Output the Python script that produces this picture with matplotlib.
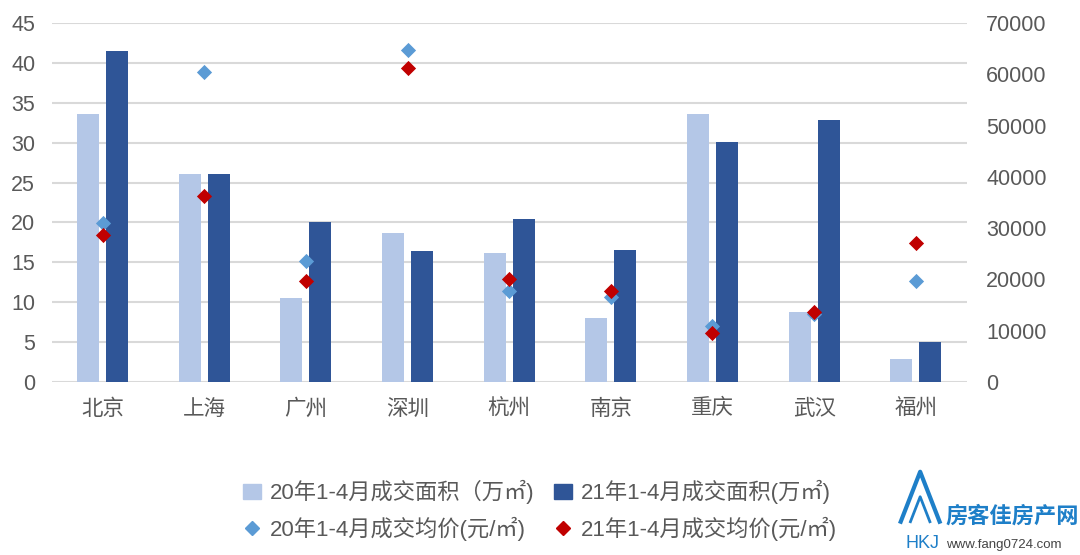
import matplotlib
matplotlib.use("Agg")
import matplotlib.pyplot as plt
import numpy as np
from matplotlib.lines import Line2D
from matplotlib.patches import Patch

plt.rcParams['font.family'] = ['Liberation Sans', 'Noto Sans CJK SC', 'DejaVu Sans']

cities = ['北京', '上海', '广州', '深圳', '杭州', '南京', '重庆', '武汉', '福州']
area_20 = [33.6, 26.1, 10.5, 18.7, 16.2, 8.0, 33.6, 8.8, 2.9]
area_21 = [41.5, 26.1, 20.0, 16.4, 20.4, 16.5, 30.1, 32.8, 5.0]
price_20 = [31000, 60400, 23600, 64700, 17700, 16600, 10900, 13300, 19700]
price_21 = [28700, 36300, 19700, 61200, 20100, 17700, 9600, 13700, 27100]

labels = ['20年1-4月成交面积（万㎡)', '21年1-4月成交面积(万㎡)',
          '20年1-4月成交均价(元/㎡)', '21年1-4月成交均价(元/㎡)']

light = '#B4C7E7'
dark = '#2F5597'
blue = '#5B9BD5'
red = '#C00000'
grey = '#595959'

fig = plt.figure(figsize=(10.8, 5.55), dpi=100)
ax = fig.add_axes([0.048, 0.3117, 0.847, 0.647])
x = np.arange(len(cities))
w = 0.216

ax.bar(x - 0.143, area_20, w, color=light, zorder=2)
ax.bar(x + 0.143, area_21, w, color=dark, zorder=2)
ax.set_ylim(0, 45)
ax.set_yticks(np.arange(0, 46, 5))
ax.set_xlim(-0.5, len(cities) - 0.5)
ax.set_xticks(x)
ax.set_xticklabels(cities)
ax.yaxis.grid(True, color='#D9D9D9', lw=1.5, zorder=0)
ax.set_axisbelow(True)
ax.tick_params(axis='y', length=0, pad=12, labelsize=15.5, labelcolor=grey)
ax.tick_params(axis='x', length=0, pad=12, labelsize=15.5, labelcolor=grey)
for s in ax.spines.values():
    s.set_visible(False)

ax2 = ax.twinx()
ax2.scatter(x, price_20, marker='D', s=60, color=blue, zorder=3, linewidths=0)
ax2.scatter(x, price_21, marker='D', s=60, color=red, zorder=4, linewidths=0)
ax2.set_ylim(0, 70000)
ax2.set_yticks(np.arange(0, 70001, 10000))
ax2.tick_params(axis='y', length=0, pad=14, labelsize=15.5, labelcolor=grey)
for s in ax2.spines.values():
    s.set_visible(False)

handles = [Patch(color=light), Line2D([], [], marker='D', ls='', color=blue, markersize=7),
           Patch(color=dark), Line2D([], [], marker='D', ls='', color=red, markersize=7)]
fig.legend(handles, [labels[0], labels[2], labels[1], labels[3]], ncol=2,
           loc='center', bbox_to_anchor=(0.5, 0.08), frameon=False,
           fontsize=16, labelcolor=grey, handlelength=0.8, handletextpad=0.4,
           columnspacing=0.9, labelspacing=0.55)

# watermark
fig.text(0.875, 0.058, '房客佳房产网', fontsize=16, color='#1E7FC8', fontweight='bold')
fig.text(0.876, 0.013, 'www.fang0724.com', fontsize=9.5, color='#444444')
fig.add_artist(Line2D([0.834, 0.852, 0.870], [0.06, 0.15, 0.06], color='#1E7FC8', lw=3))
fig.add_artist(Line2D([0.843, 0.852, 0.861], [0.06, 0.105, 0.06], color='#1E7FC8', lw=2))
fig.text(0.838, 0.012, 'HKJ', fontsize=13, color='#1E7FC8')

fig.savefig('out.png', dpi=100)
